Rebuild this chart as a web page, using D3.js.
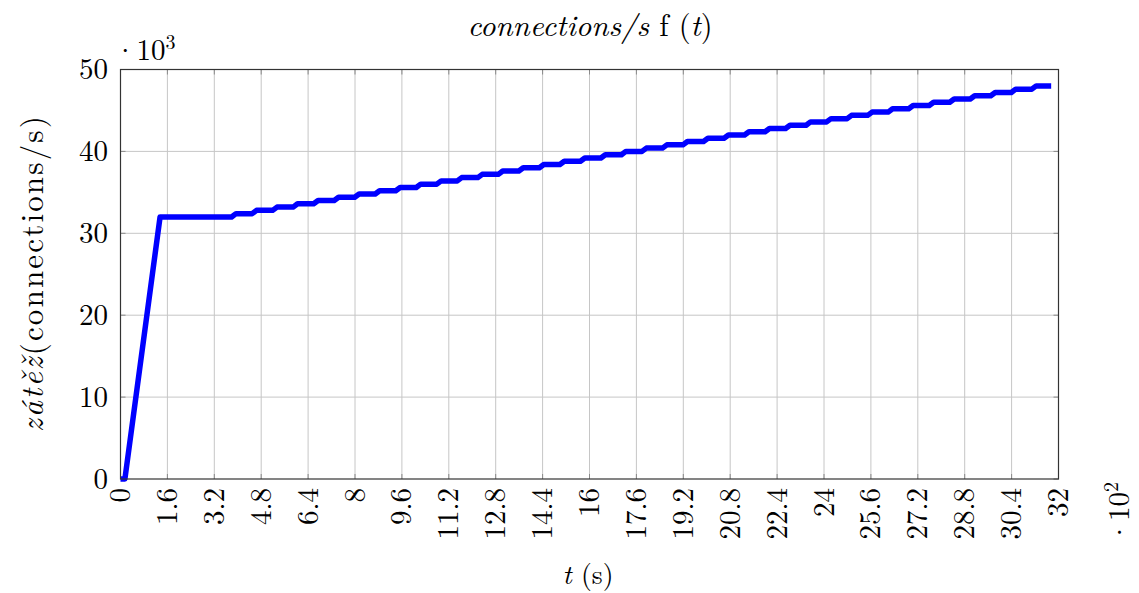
<!DOCTYPE html>
<html>
<head>
<meta charset="utf-8">
<script src="https://cdn.jsdelivr.net/npm/d3@7"></script>
<style>
  body { margin: 0; background: #fff; }
</style>
</head>
<body>
<svg id="chart" width="1139" height="593" font-family="'Latin Modern Roman', 'Liberation Serif', serif"></svg>
<script>
// axis ticks (x in 10^2 s, y in 10^3 connections/s)
const xTicks = [0, 1.6, 3.2, 4.8, 6.4, 8, 9.6, 11.2, 12.8, 14.4, 16, 17.6, 19.2, 20.8, 22.4, 24, 25.6, 27.2, 28.8, 30.4, 32];
const yTicks = [0, 10, 20, 30, 40, 50];

// ramp-up at start
const rampT = [0, 0.15, 1.35];
const rampV = [0, 0, 32];

// staircase: time of each step and the level reached
const stepT = [3.79, 4.49, 5.19, 5.89, 6.59, 7.29, 7.99, 8.69, 9.39, 10.09,
  10.79, 11.49, 12.19, 12.89, 13.59, 14.29, 14.99, 15.69, 16.39, 17.09,
  17.79, 18.49, 19.19, 19.89, 20.59, 21.29, 21.99, 22.69, 23.39, 24.09,
  24.79, 25.49, 26.19, 26.89, 27.59, 28.29, 28.99, 29.69, 30.39, 31.09];
const stepV = [32.4, 32.8, 33.2, 33.6, 34.0, 34.4, 34.8, 35.2, 35.6, 36.0,
  36.4, 36.8, 37.2, 37.6, 38.0, 38.4, 38.8, 39.2, 39.6, 40.0,
  40.4, 40.8, 41.2, 41.6, 42.0, 42.4, 42.8, 43.2, 43.6, 44.0,
  44.4, 44.8, 45.2, 45.6, 46.0, 46.4, 46.8, 47.2, 47.6, 48.0];
const stepRise = 0.15;
const endT = 31.75;

const pLeft = 120.5, pRight = 1058.5, pTop = 69.5, pBottom = 479;
const fs = 29;

const svg = d3.select('#chart');
const x = d3.scaleLinear().domain([0, 32]).range([pLeft, pRight]);
const y = d3.scaleLinear().domain([0, 50]).range([pBottom, pTop]);

// size a label so it spans the same length as in the reference
function fitText(sel, target) {
  const len = sel.node().getComputedTextLength();
  sel.style('font-size', (fs * target / len).toFixed(1) + 'px');
}
// keep the font size, spread the letters instead
function spreadText(sel, target) {
  const len = sel.node().getComputedTextLength();
  const n = sel.text().length;
  sel.attr('letter-spacing', Math.max(0, (target - len) / n).toFixed(2));
}

// build the line points
let points = rampT.map((t, i) => [t, rampV[i]]);
let level = rampV[rampV.length - 1];
stepT.forEach((t, i) => {
  points.push([t, level]);
  points.push([t + stepRise, stepV[i]]);
  level = stepV[i];
});
points.push([endT, level]);

// grid
const grid = svg.append('g').attr('class', 'grid');
grid.selectAll('line.vx').data(xTicks.slice(1, -1)).enter().append('line')
  .attr('x1', d => x(d)).attr('x2', d => x(d))
  .attr('y1', pTop).attr('y2', pBottom)
  .attr('stroke', '#c6c6c6').attr('stroke-width', 1);
grid.selectAll('line.hy').data(yTicks.slice(1, -1)).enter().append('line')
  .attr('x1', pLeft).attr('x2', pRight)
  .attr('y1', d => y(d)).attr('y2', d => y(d))
  .attr('stroke', '#c6c6c6').attr('stroke-width', 1);

// inner tick marks
const tickLen = 5;
const ticks = svg.append('g').attr('stroke', '#8a8a8a').attr('stroke-width', 1);
xTicks.forEach(d => {
  ticks.append('line').attr('x1', x(d)).attr('x2', x(d)).attr('y1', pBottom).attr('y2', pBottom - tickLen);
  ticks.append('line').attr('x1', x(d)).attr('x2', x(d)).attr('y1', pTop).attr('y2', pTop + tickLen);
});
yTicks.forEach(d => {
  ticks.append('line').attr('x1', pLeft).attr('x2', pLeft + tickLen).attr('y1', y(d)).attr('y2', y(d));
  ticks.append('line').attr('x1', pRight).attr('x2', pRight - tickLen).attr('y1', y(d)).attr('y2', y(d));
});

// data line
svg.append('path')
  .datum(points)
  .attr('fill', 'none')
  .attr('stroke', '#0000ff')
  .attr('stroke-width', 5.5)
  .attr('stroke-linejoin', 'round')
  .attr('d', d3.line().x(d => x(d[0])).y(d => y(d[1])));

// frame
svg.append('rect')
  .attr('x', pLeft).attr('y', pTop)
  .attr('width', pRight - pLeft).attr('height', pBottom - pTop)
  .attr('fill', 'none').attr('stroke', '#333').attr('stroke-width', 1.2);

// y tick labels
svg.selectAll('text.ytick').data(yTicks).enter().append('text')
  .attr('class', 'ytick')
  .attr('x', 108).attr('y', d => y(d)).attr('dy', '0.33em')
  .attr('text-anchor', 'end').style('font-size', fs + 'px')
  .text(d => d);

// x tick labels (rotated)
svg.selectAll('text.xtick').data(xTicks).enter().append('text')
  .attr('class', 'xtick')
  .attr('transform', d => `translate(${x(d)},488) rotate(-90)`)
  .attr('dy', '0.33em')
  .attr('text-anchor', 'end').style('font-size', fs + 'px')
  .text(d => d);

// scale factors
const yMul = svg.append('text').attr('x', 114).attr('y', 60).style('font-size', fs + 'px');
yMul.append('tspan').text('·10');
yMul.append('tspan').attr('dy', -11).style('font-size', '20px').text('3');

const xMul = svg.append('text')
  .attr('transform', 'translate(1119,482) rotate(-90)')
  .attr('dy', '0.33em').attr('text-anchor', 'end').style('font-size', fs + 'px');
xMul.append('tspan').text('·10');
xMul.append('tspan').attr('dy', -11).style('font-size', '20px').text('2');

// title
const title = svg.append('text').attr('x', 590).attr('y', 36)
  .attr('text-anchor', 'middle').style('font-size', fs + 'px');
title.append('tspan').style('font-style', 'italic').text('connections/s');
title.append('tspan').text(' f (');
title.append('tspan').style('font-style', 'italic').text('t');
title.append('tspan').text(')');
fitText(title, 245);

// x axis label
const xLab = svg.append('text').attr('x', 588).attr('y', 584)
  .attr('text-anchor', 'middle').style('font-size', fs + 'px');
xLab.append('tspan').style('font-style', 'italic').text('t');
xLab.append('tspan').text(' (s)');
fitText(xLab, 51);

// y axis label
const yLab = svg.append('text')
  .attr('transform', 'translate(43,273) rotate(-90)')
  .attr('text-anchor', 'middle').style('font-size', '31px');
yLab.append('tspan').style('font-style', 'italic').text('zátěž');
yLab.append('tspan').text('(connections/s)');
spreadText(yLab, 318);
</script>
</body>
</html>
